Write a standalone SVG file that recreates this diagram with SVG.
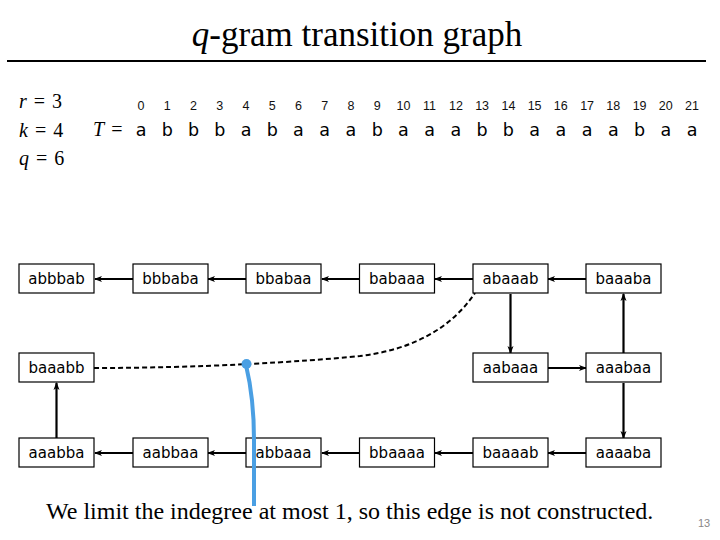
<svg xmlns="http://www.w3.org/2000/svg" width="720" height="540" viewBox="0 0 720 540">
<defs>
<marker id="ah" viewBox="0 0 8 8" refX="7" refY="4" markerWidth="8" markerHeight="8" markerUnits="userSpaceOnUse" orient="auto">
<path d="M0,1 L8,4 L0,7 L2,4 Z" fill="#000"/>
</marker>
<style>
.box rect{fill:#fff;stroke:#000;stroke-width:1.2}
.box text{font-family:"DejaVu Sans",Verdana,sans-serif;font-size:15px;text-anchor:middle;fill:#000}
.e{stroke:#000;stroke-width:2.2;fill:none;marker-end:url(#ah)}
.ser{font-family:"Liberation Serif","Times New Roman",serif;fill:#000}
.idx{font-family:"Liberation Sans",Arial,sans-serif;font-size:12.5px;text-anchor:middle;fill:#111}
.ch{font-family:"DejaVu Sans",Verdana,sans-serif;font-size:17.5px;text-anchor:middle;fill:#000}
</style>
</defs>
<rect width="720" height="540" fill="#fff"/>
<text class="ser" x="357" y="46" font-size="35" text-anchor="middle"><tspan font-style="italic">q</tspan>-gram transition graph</text>
<line x1="7" y1="61" x2="706" y2="61" stroke="#000" stroke-width="2"/>
<g class="ser" font-size="20" word-spacing="2">
<text x="19" y="108"><tspan font-style="italic">r</tspan> = 3</text>
<text x="19" y="137"><tspan font-style="italic">k</tspan> = 4</text>
<text x="19" y="165"><tspan font-style="italic">q</tspan> = 6</text>
<text x="93" y="136" font-size="20"><tspan font-style="italic">T</tspan> =</text>
</g>
<g id="indices">
<text class="idx" x="141" y="110">0</text><text class="idx" x="167.2" y="110">1</text><text class="idx" x="193.5" y="110">2</text><text class="idx" x="219.7" y="110">3</text><text class="idx" x="246" y="110">4</text><text class="idx" x="272.2" y="110">5</text><text class="idx" x="298.4" y="110">6</text><text class="idx" x="324.7" y="110">7</text><text class="idx" x="350.9" y="110">8</text><text class="idx" x="377.2" y="110">9</text><text class="idx" x="403.4" y="110">10</text><text class="idx" x="429.6" y="110">11</text><text class="idx" x="455.9" y="110">12</text><text class="idx" x="482.1" y="110">13</text><text class="idx" x="508.4" y="110">14</text><text class="idx" x="534.6" y="110">15</text><text class="idx" x="560.8" y="110">16</text><text class="idx" x="587.1" y="110">17</text><text class="idx" x="613.3" y="110">18</text><text class="idx" x="639.6" y="110">19</text><text class="idx" x="665.8" y="110">20</text><text class="idx" x="692" y="110">21</text>
</g>
<g id="string">
<text class="ch" x="141" y="136">a</text><text class="ch" x="167.2" y="136">b</text><text class="ch" x="193.5" y="136">b</text><text class="ch" x="219.7" y="136">b</text><text class="ch" x="246" y="136">a</text><text class="ch" x="272.2" y="136">b</text><text class="ch" x="298.4" y="136">a</text><text class="ch" x="324.7" y="136">a</text><text class="ch" x="350.9" y="136">a</text><text class="ch" x="377.2" y="136">b</text><text class="ch" x="403.4" y="136">a</text><text class="ch" x="429.6" y="136">a</text><text class="ch" x="455.9" y="136">a</text><text class="ch" x="482.1" y="136">b</text><text class="ch" x="508.4" y="136">b</text><text class="ch" x="534.6" y="136">a</text><text class="ch" x="560.8" y="136">a</text><text class="ch" x="587.1" y="136">a</text><text class="ch" x="613.3" y="136">a</text><text class="ch" x="639.6" y="136">b</text><text class="ch" x="665.8" y="136">a</text><text class="ch" x="692" y="136">a</text>
</g>
<g id="connectors">
<line class="e" x1="133" y1="279" x2="95" y2="279"/>
<line class="e" x1="246" y1="279" x2="208" y2="279"/>
<line class="e" x1="359" y1="279" x2="322" y2="279"/>
<line class="e" x1="473" y1="279" x2="435" y2="279"/>
<line class="e" x1="586" y1="279" x2="548" y2="279"/>
<line class="e" x1="510.5" y1="294" x2="510.5" y2="353"/>
<line class="e" x1="548" y1="368" x2="586" y2="368"/>
<line class="e" x1="623.5" y1="353" x2="623.5" y2="294"/>
<line class="e" x1="623.5" y1="383" x2="623.5" y2="438"/>
<line class="e" x1="586" y1="453" x2="548" y2="453"/>
<line class="e" x1="473" y1="453" x2="435" y2="453"/>
<line class="e" x1="359" y1="453" x2="322" y2="453"/>
<line class="e" x1="246" y1="453" x2="208" y2="453"/>
<line class="e" x1="133" y1="453" x2="95" y2="453"/>
<line class="e" x1="56.5" y1="438" x2="56.5" y2="383"/>
<path d="M94,368 C 200,368 300,362 360,356 C 410,350 450,330 475,293" fill="none" stroke="#000" stroke-width="2" stroke-dasharray="5,3"/>
</g>
<g id="n-abbbab" class="box"><rect x="19" y="264" width="75" height="29"/><text x="56.5" y="284">abbbab</text></g>
<g id="n-bbbaba" class="box"><rect x="133" y="264" width="75" height="29"/><text x="170.5" y="284">bbbaba</text></g>
<g id="n-bbabaa" class="box"><rect x="246" y="264" width="75" height="29"/><text x="283.5" y="284">bbabaa</text></g>
<g id="n-babaaa" class="box"><rect x="359.5" y="264" width="75" height="29"/><text x="397" y="284">babaaa</text></g>
<g id="n-abaaab" class="box"><rect x="473" y="264" width="75" height="29"/><text x="510.5" y="284">abaaab</text></g>
<g id="n-baaaba" class="box"><rect x="586" y="264" width="75" height="29"/><text x="623.5" y="284">baaaba</text></g>
<g id="n-baaabb" class="box"><rect x="19" y="353" width="75" height="29"/><text x="56.5" y="373">baaabb</text></g>
<g id="n-aabaaa" class="box"><rect x="473" y="353" width="75" height="29"/><text x="510.5" y="373">aabaaa</text></g>
<g id="n-aaabaa" class="box"><rect x="586" y="353" width="75" height="29"/><text x="623.5" y="373">aaabaa</text></g>
<g id="n-aaabba" class="box"><rect x="19" y="438" width="75" height="29"/><text x="56.5" y="458">aaabba</text></g>
<g id="n-aabbaa" class="box"><rect x="133" y="438" width="75" height="29"/><text x="170.5" y="458">aabbaa</text></g>
<g id="n-abbaaa" class="box"><rect x="246" y="438" width="75" height="29"/><text x="283.5" y="458">abbaaa</text></g>
<g id="n-bbaaaa" class="box"><rect x="359.5" y="438" width="75" height="29"/><text x="397" y="458">bbaaaa</text></g>
<g id="n-baaaab" class="box"><rect x="473" y="438" width="75" height="29"/><text x="510.5" y="458">baaaab</text></g>
<g id="n-aaaaba" class="box"><rect x="586" y="438" width="75" height="29"/><text x="623.5" y="458">aaaaba</text></g>
<g id="annotation">
<path d="M246,365 C 252,390 254,410 254,440 L 254,506" fill="none" stroke="#4A9FE3" stroke-width="4" stroke-linecap="butt"/>
<circle cx="246.5" cy="364" r="5" fill="#4A9FE3"/>
<text class="ser" x="46" y="519" font-size="24">We limit the indegree at most 1, so this edge is not constructed.</text>
<text x="704" y="527" font-family="Liberation Sans,Arial,sans-serif" font-size="11" fill="#888" text-anchor="middle">13</text>
</g>
</svg>
